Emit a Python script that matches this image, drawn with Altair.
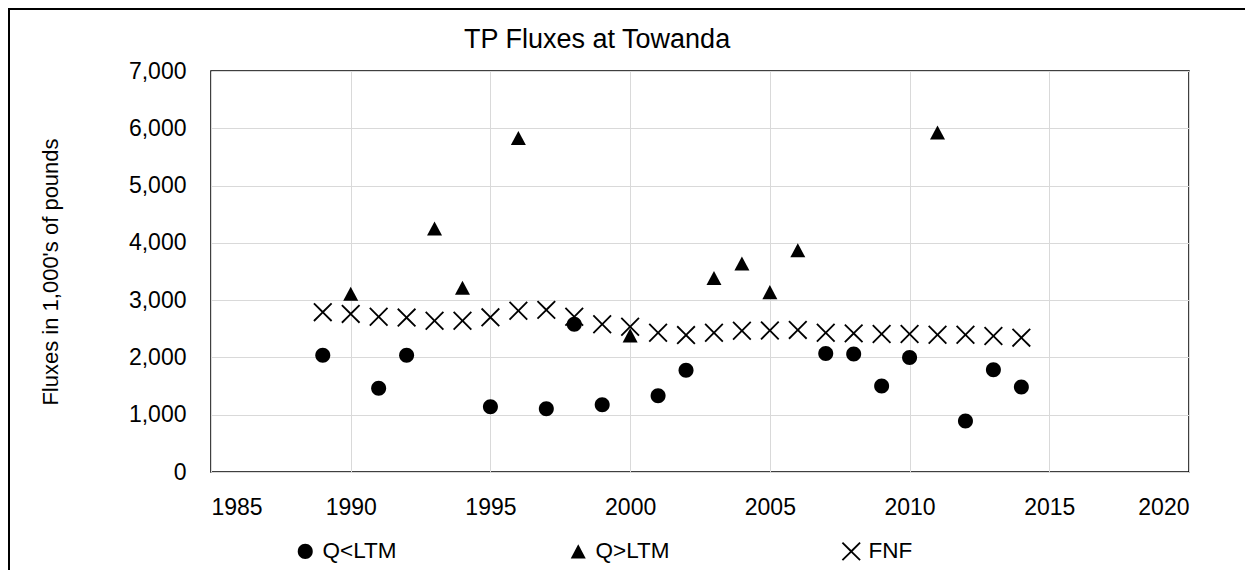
import altair as alt
import pandas as pd

# Q<LTM (circles)
low_years = [1989, 1991, 1992, 1995, 1997, 1998, 1999, 2001, 2002, 2007, 2008, 2009, 2010, 2012, 2013, 2014]
low_vals = [2040, 1460, 2040, 1140, 1105, 2580, 1175, 1330, 1775, 2070, 2060, 1500, 2000, 890, 1785, 1485]

# Q>LTM (triangles)
high_years = [1990, 1993, 1994, 1996, 2000, 2003, 2004, 2005, 2006, 2011]
high_vals = [3110, 4250, 3215, 5830, 2385, 3385, 3640, 3140, 3870, 5925]

# FNF (crosses)
fnf_years = list(range(1989, 2015))
fnf_vals = [2790, 2760, 2710, 2695, 2640, 2640, 2700, 2815, 2830, 2710, 2580, 2535, 2430,
            2390, 2430, 2465, 2470, 2480, 2430, 2420, 2410, 2410, 2395, 2395, 2375, 2345]

series_names = ["Q<LTM", "Q>LTM", "FNF"]
x_ticks = [1985, 1990, 1995, 2000, 2005, 2010, 2015, 2020]
y_ticks = [0, 1000, 2000, 3000, 4000, 5000, 6000, 7000]
title_text = "TP Fluxes at Towanda"
y_title = "Fluxes in 1,000's of pounds"

rows = []
for yr, v in zip(low_years, low_vals):
    rows.append({"year": yr, "flux": v, "series": "Q<LTM"})
for yr, v in zip(high_years, high_vals):
    rows.append({"year": yr, "flux": v, "series": "Q>LTM"})
for yr, v in zip(fnf_years, fnf_vals):
    rows.append({"year": yr, "flux": v, "series": "FNF"})
df = pd.DataFrame(rows)

FONT = "Liberation Sans"

# filled symbol paths (unit = sqrt(size)/2 px)
r = 1.154
circle_path = f"M{r},0A{r},{r},0,1,1,-{r},0A{r},{r},0,1,1,{r},0Z"
tri_path = "M0,-1.08L1.154,1.08L-1.154,1.08Z"
a, t = 1.46, 0.2
x_path = (f"M{-a},{-a+t}L{-a+t},{-a}L0,{-t}L{a-t},{-a}L{a},{-a+t}L{t},0"
          f"L{a},{a-t}L{a-t},{a}L0,{t}L{-a+t},{a}L{-a},{a-t}L{-t},0Z")

points = alt.Chart(df).mark_point(
    filled=True, fill="black", strokeWidth=0, size=169, opacity=1
).encode(
    x=alt.X("year:Q", scale=alt.Scale(domain=[1985, 2020], nice=False),
            axis=alt.Axis(values=x_ticks, format="d", title=None)),
    y=alt.Y("flux:Q", scale=alt.Scale(domain=[0, 7000], nice=False),
            axis=alt.Axis(values=y_ticks, format=",.0f", title=y_title)),
    shape=alt.Shape("series:N",
                    scale=alt.Scale(domain=series_names, range=[circle_path, tri_path, x_path]),
                    legend=alt.Legend(title=None, orient="none", direction="horizontal",
                                      legendX=83, legendY=469, columns=3, gridAlign="all",
                                      columnPadding=170, symbolSize=169, labelOffset=6,
                                      symbolFillColor="black", symbolStrokeWidth=0,
                                      symbolOpacity=1, labelFont=FONT, labelFontSize=22.5,
                                      labelColor="black", padding=0)),
    order=alt.Order("series:N", sort="descending"),
)

title_mark = alt.Chart(df).mark_text(
    align="left", baseline="alphabetic", font=FONT, fontSize=27, color="black"
).encode(
    x=alt.value(253), y=alt.value(-23), text=alt.value(title_text)
).transform_filter(alt.datum.year == 1989).transform_filter(alt.datum.series == "FNF")

frame_top = alt.Chart(df).mark_rule(color="black", strokeWidth=1.5).encode(
    x=alt.value(-202.5), x2=alt.value(1034), y=alt.value(-62.5)
)
frame_left = alt.Chart(df).mark_rule(color="black", strokeWidth=1.5).encode(
    x=alt.value(-202.5), y=alt.value(-62.5), y2=alt.value(499)
)

chart = alt.layer(frame_top, frame_left, title_mark, points).properties(
    width=978, height=401,
    autosize=alt.AutoSizeParams(type="none"),
    padding={"left": 203, "top": 63, "right": 56, "bottom": 98},
).configure_view(
    stroke="black", strokeWidth=1.5
).configure_axis(
    grid=True, gridColor="#d9d9d9", gridWidth=1, domain=False, ticks=False,
    labelFont=FONT, labelFontSize=23, labelColor="black",
    titleFont=FONT, titleFontSize=22, titleFontWeight="normal", titleColor="black",
).configure_axisY(
    labelPadding=25, titleX=-161, titleBaseline="middle", titleAngle=-90
).configure_axisX(
    labelPadding=24
)

chart.save("out.html", embed_options={"renderer": "svg", "actions": False})
